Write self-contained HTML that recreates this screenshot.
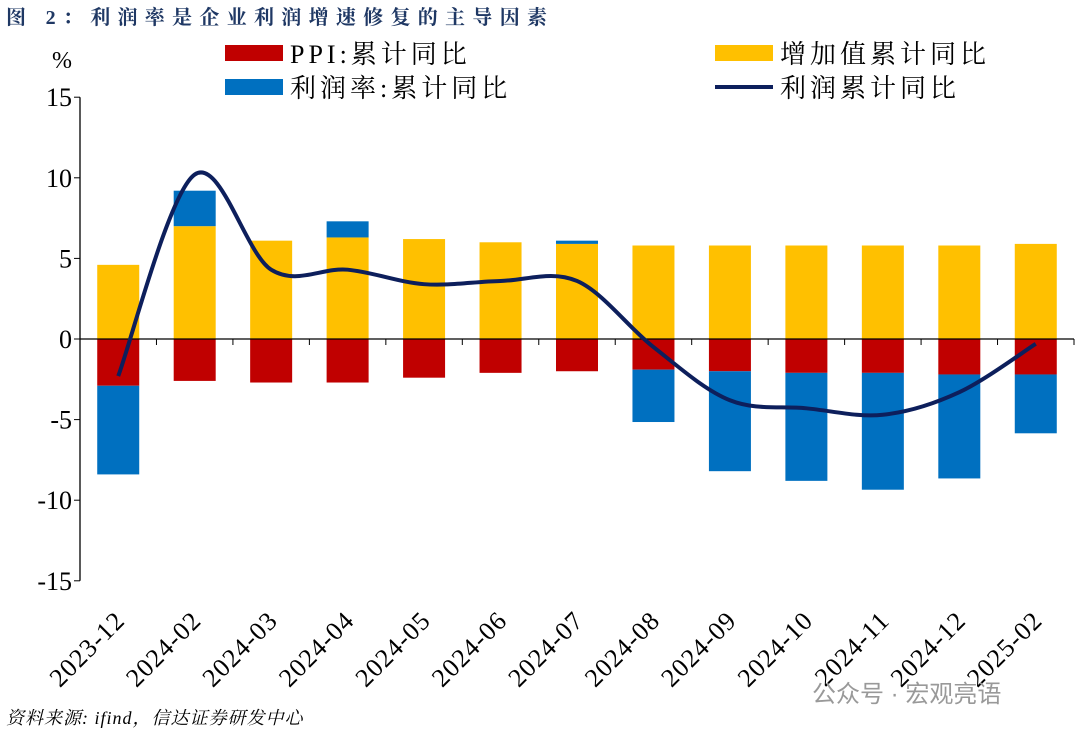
<!DOCTYPE html>
<html><head><meta charset="utf-8"><style>
body{margin:0;background:#fff;width:1080px;height:736px;overflow:hidden;font-family:"Liberation Serif","Noto Serif CJK SC",serif}
</style></head><body>
<svg width="1080" height="736" xmlns="http://www.w3.org/2000/svg">
<text x="6" y="24" font-size="20" font-weight="bold" fill="#1F3864" letter-spacing="7.3" font-family="Liberation Serif,Noto Serif CJK SC,serif">图 2：利润率是企业利润增速修复的主导因素</text>
<text x="52" y="68" font-size="24" fill="#000">%</text>
<g id="legend">
<rect x="225" y="45" width="58" height="16" fill="#C00000"/>
<text x="290" y="63" font-size="26" letter-spacing="4">PPI:累计同比</text>
<rect x="715" y="45" width="58" height="16" fill="#FFC000"/>
<text x="780" y="63" font-size="26" letter-spacing="4">增加值累计同比</text>
<rect x="225" y="79" width="58" height="16" fill="#0070C0"/>
<text x="290" y="97" font-size="26" letter-spacing="4">利润率:累计同比</text>
<line x1="715" y1="87" x2="773" y2="87" stroke="#0D1F5C" stroke-width="4"/>
<text x="780" y="97" font-size="26" letter-spacing="4">利润累计同比</text>
</g>
<g id="plot"></g>
<text x="812" y="702" font-size="24" fill="#999" font-family="Liberation Sans,Noto Sans CJK SC,sans-serif">公众号 · 宏观亮语</text>
<text x="6" y="724" font-size="18" font-style="italic" letter-spacing="1">资料来源: ifind，信达证券研发中心</text>
</svg>
<script>
const categories=["2023-12","2024-02","2024-03","2024-04","2024-05","2024-06","2024-07","2024-08","2024-09","2024-10","2024-11","2024-12","2025-02"];
const valueAdded=[4.6,7.0,6.1,6.3,6.2,6.0,5.9,5.8,5.8,5.8,5.8,5.8,5.9];
const ppi=[-2.9,-2.6,-2.7,-2.7,-2.4,-2.1,-2.0,-1.9,-2.0,-2.1,-2.1,-2.2,-2.2];
const margin=[-5.5,2.2,0,1.0,0,0,0.2,-3.25,-6.2,-6.7,-7.25,-6.45,-3.65];
const profit=[-2.3,10.2,4.3,4.3,3.4,3.6,3.6,-0.5,-3.8,-4.3,-4.7,-3.3,-0.3];
const yTicks=[15,10,5,0,-5,-10,-15];
const NS="http://www.w3.org/2000/svg";
const g=document.getElementById('plot');
const X0=80,X1=1074,n=categories.length,step=(X1-X0)/n,bw=42;
const xc=i=>X0+step*(i+0.5);
const y=v=>339-v*16.12;
function mk(t,a){const e=document.createElementNS(NS,t);for(const k in a)e.setAttribute(k,a[k]);g.appendChild(e);return e;}
function bar(i,a,b,c,nm){const e=mk('rect',{x:xc(i)-bw/2,y:Math.min(y(a),y(b)),width:bw,height:Math.abs(y(a)-y(b)),fill:c});

}
for(let i=0;i<n;i++){
 bar(i,0,valueAdded[i],'#FFC000','bar-value-added-'+categories[i]);
 bar(i,0,ppi[i],'#C00000','bar-ppi-'+categories[i]);
 if(margin[i]>0) bar(i,valueAdded[i],valueAdded[i]+margin[i],'#0070C0','bar-margin-'+categories[i]);
 else if(margin[i]<0) bar(i,ppi[i],ppi[i]+margin[i],'#0070C0','bar-margin-'+categories[i]);
}
const ax=mk('line',{x1:X0,y1:y(15),x2:X0,y2:y(-15),stroke:'#000','stroke-width':1.3});


yTicks.forEach(v=>{
 const l=mk('line',{x1:X0-6,y1:y(v),x2:X0,y2:y(v),stroke:'#000'});
 
 
 const t=mk('text',{x:X0-8,y:y(v)+9,'text-anchor':'end','font-size':26});
 t.textContent=v;
 
 
});
const xa=mk('line',{x1:X0,y1:y(0),x2:X1,y2:y(0),stroke:'#000','stroke-width':1.3});


for(let i=0;i<=n;i++){const l=mk('line',{x1:X0+step*i,y1:y(0),x2:X0+step*i,y2:y(0)+6,stroke:'#000'});

}
categories.forEach((c,i)=>{
 const px=xc(i)+8,py=622;
 const t=mk('text',{x:px,y:py,'text-anchor':'end','font-size':26,'letter-spacing':1,transform:`rotate(-45 ${px} ${py})`});
 t.textContent=c;
 
 
});
const pts=profit.map((v,i)=>[xc(i),y(v)]);
let d=`M${pts[0][0]},${pts[0][1]}`;
for(let i=0;i<pts.length-1;i++){
 const p0=pts[Math.max(0,i-1)],p1=pts[i],p2=pts[i+1],p3=pts[Math.min(pts.length-1,i+2)];
 const c1=[p1[0]+(p2[0]-p0[0])/6,p1[1]+(p2[1]-p0[1])/6],c2=[p2[0]-(p3[0]-p1[0])/6,p2[1]-(p3[1]-p1[1])/6];
 d+=` C${c1[0]},${c1[1]} ${c2[0]},${c2[1]} ${p2[0]},${p2[1]}`;
}
const line=mk('path',{d:d,fill:'none',stroke:'#0D1F5C','stroke-width':4});


</script>
</body></html>
